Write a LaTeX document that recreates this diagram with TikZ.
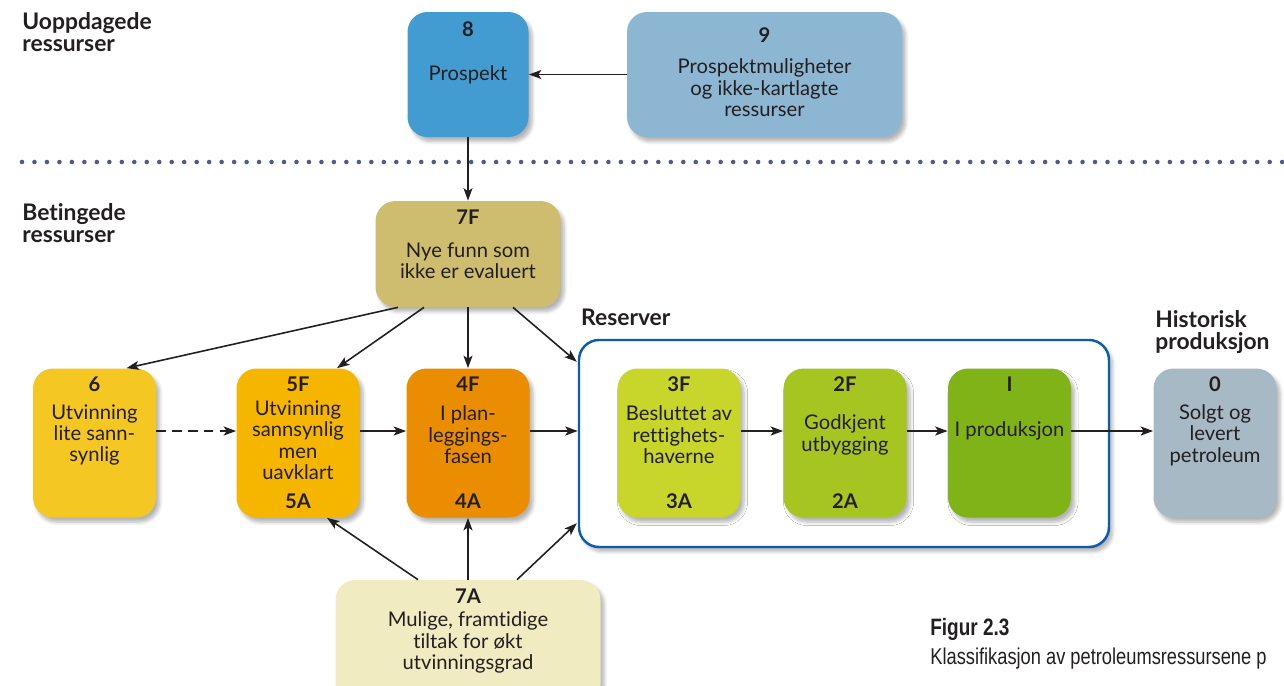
\documentclass[tikz,border=0pt]{standalone}
\usepackage{fontspec}
\setmainfont{Lato}[Ligatures=NoCommon]
\newfontfamily\capfont[FakeStretch=0.8]{Liberation Sans}
\usetikzlibrary{arrows.meta, calc, positioning, shadows.blur}
\definecolor{ctext}{HTML}{231F20}
\definecolor{cdots}{HTML}{4E5D85}
\definecolor{cres}{HTML}{0B5DAA}
\definecolor{c8}{HTML}{429CD2}
\definecolor{c9}{HTML}{8DB6D3}
\definecolor{c7F}{HTML}{CFBD6F}
\definecolor{c7A}{HTML}{F1EBC1}
\definecolor{c6}{HTML}{F5C723}
\definecolor{c5F}{HTML}{F6B600}
\definecolor{c4F}{HTML}{EA8D00}
\definecolor{c3F}{HTML}{C8D52B}
\definecolor{c2F}{HTML}{A7C520}
\definecolor{c1}{HTML}{80B317}
\definecolor{c0}{HTML}{A7B9C5}

\begin{document}
\begin{tikzpicture}[
  classbox/.style={
    rectangle, rounded corners=0.4cm, inner sep=0pt,
    minimum width=2.46cm, minimum height=2.98cm,
    blur shadow={shadow xshift=0.7mm, shadow yshift=-0.9mm,
                 shadow blur steps=6, shadow opacity=30}
  },
  numtxt/.style={
    font=\bfseries\fontsize{11.5}{12}\selectfont, inner sep=0pt
  },
  boxtxt/.style={
    font=\fontsize{11.5}{12.2}\selectfont, align=center, inner sep=0pt
  },
  headtxt/.style={
    font=\bfseries\fontsize{13}{12.4}\selectfont, align=left, inner sep=0pt
  },
  flowarrow/.style={
    -{Stealth[length=2.5mm, width=1.8mm, inset=0.6mm]}, draw=ctext,
    line width=0.9pt
  },
  text=ctext
]
\useasboundingbox (0,0) rectangle (25.68,-13.7);
\clip (0,0) rectangle (25.68,-13.7);

% ============================================================
% Top band: undiscovered resources
% ============================================================
\node[headtxt, anchor=north west] (hUopp) at (0.44,-0.24)
  {Uoppdagede\\ressurser};

\node[classbox, fill=c8, minimum width=2.42cm, minimum height=2.5cm]
  (n8) at (9.36,-1.49) {};
\node[numtxt] at ($(n8.north)+(0,-0.36)$) {8};
\node[boxtxt] at (n8.center) {Prospekt};

\node[classbox, fill=c9, minimum width=5.5cm, minimum height=2.5cm]
  (n9) at (15.29,-1.49) {};
\node[numtxt] at ($(n9.north)+(0,-0.46)$) {9};
\node[boxtxt] at ($(n9.center)+(0,-0.27)$)
  {Prospektmuligheter\\og ikke-kartlagte\\ressurser};

\draw[flowarrow] (n9.west) -- (n8.east);

% dotted separator
\draw[cdots, line width=2.6pt, line cap=round, dash pattern=on 0pt off 7.1pt]
  (0.44,-3.24) -- (25.68,-3.24);

% ============================================================
% Middle band: contingent resources and reserves
% ============================================================
\node[headtxt, anchor=north west] (hBet) at (0.44,-4.06)
  {Betingede\\ressurser};

\node[classbox, fill=c7F, minimum width=3.7cm, minimum height=2.12cm]
  (n7F) at (9.36,-5.08) {};
\node[numtxt] at ($(n7F.north)+(0,-0.34)$) {7F};
\node[boxtxt] at ($(n7F.center)+(0,-0.14)$) {Nye funn som\\ikke er evaluert};

\draw[flowarrow] (n8.south) -- (n7F.north);

% Reserver frame
\node[rectangle, rounded corners=0.4cm, draw=cres, line width=1.4pt,
      fill=white, minimum width=10.6cm, minimum height=4.14cm,
      blur shadow={shadow xshift=0.7mm, shadow yshift=-0.9mm,
                   shadow blur steps=6, shadow opacity=30}]
  (reserver) at (16.88,-8.87) {};
\node[headtxt, anchor=base west] (hRes) at ($(reserver.north west)+(0.06,0.26)$)
  {Reserver};

% Row of class boxes
\foreach \nm/\xp/\lnum/\ltxt/\dy/\lsub in {
    6/1.89/6/{Utvinning\\lite sann-\\synlig}/0.16/{},
    5F/5.96/5F/{Utvinning\\sannsynlig\\men\\uavklart}/0.06/5A,
    4F/9.36/4F/{I plan-\\leggings-\\fasen}/0.16/4A,
    3F/13.58/3F/{Besluttet av\\rettighets-\\haverne}/0.16/3A,
    2F/16.9/2F/{Godkjent\\utbygging}/0.16/2A,
    1/20.19/I/{I produksjon}/0.24/{},
    0/24.3/0/{Solgt og\\levert\\petroleum}/0.16/{}} {
  \node[classbox, fill=c\nm] (n\nm) at (\xp,-8.86) {};
  \node[numtxt] at ($(n\nm.north)+(0,-0.32)$) {\lnum};
  \node[boxtxt] at ($(n\nm.center)+(0,\dy)$) {\ltxt};
  \node[numtxt] at ($(n\nm.south)+(0,0.34)$) {\lsub};
}

\node[headtxt, anchor=north west] (hHist) at (23.1,-6.2)
  {Historisk\\produksjon};

% Horizontal flow through the row
\draw[flowarrow, dash pattern=on 5.5pt off 3.5pt]
  ($(n6.east)+(0,0.24)$) -- ($(n5F.west)+(0,0.24)$);
\draw[flowarrow] ($(n5F.east)+(0,0.24)$) -- ($(n4F.west)+(0,0.24)$);
\draw[flowarrow] ($(n4F.east)+(0,0.24)$) -- ($(reserver.west)+(0,0.25)$);
\draw[flowarrow] ($(n3F.east)+(0,0.24)$) -- ($(n2F.west)+(0,0.24)$);
\draw[flowarrow] ($(n2F.east)+(0,0.24)$) -- ($(n1.west)+(0,0.24)$);
\draw[flowarrow] ($(n1.east)+(0,0.24)$) -- ($(n0.west)+(0,0.24)$);

% Fan out from 7F
\draw[flowarrow] ($(n7F.south)+(-1.4,0)$) -- ($(n6.north)+(0.64,0)$);
\draw[flowarrow] ($(n7F.south)+(-0.88,0)$) -- ($(n5F.north)+(0.78,0)$);
\draw[flowarrow] (n7F.south) -- (n4F.north);
\draw[flowarrow] ($(n7F.south)+(0.9,0)$) -- ($(reserver.north west)+(-0.02,-0.46)$);

% ============================================================
% Bottom band: 7A
% ============================================================
\node[classbox, fill=c7A, minimum width=5.3cm, minimum height=2.5cm]
  (n7A) at (9.36,-12.85) {};
\node[numtxt] at ($(n7A.north)+(0,-0.34)$) {7A};
\node[boxtxt] at (n7A.center) {Mulige, framtidige\\tiltak for økt\\utvinningsgrad};

\draw[flowarrow] ($(n7A.north)+(-1.0,0)$) -- ($(n5F.south)+(0.58,0)$);
\draw[flowarrow] (n7A.north) -- (n4F.south);
\draw[flowarrow] ($(n7A.north)+(0.98,0)$) -- ($(reserver.south west)+(-0.02,0.5)$);

% Caption
\node[anchor=north west, inner sep=0pt,
      font=\capfont\bfseries\fontsize{13.5}{14}\selectfont]
  (figno) at (18.6,-12.36) {Figur 2.3};
\node[anchor=north west, inner sep=0pt,
      font=\capfont\fontsize{13}{14}\selectfont]
  (figcap) at (18.6,-12.96) {Klassifikasjon av petroleumsressursene p};

\end{tikzpicture}
\end{document}
